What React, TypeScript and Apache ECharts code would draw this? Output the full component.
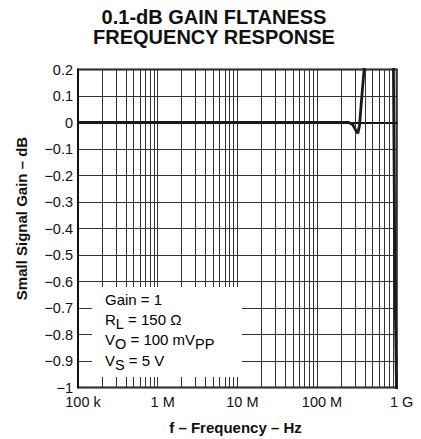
import React, { useEffect, useRef } from "react";
import * as echarts from "echarts";

const FONT = "'Liberation Sans', Arial, Helvetica, sans-serif";

const titleLines = ["0.1-dB GAIN FLTANESS", "FREQUENCY RESPONSE"];
const xAxisTitle = "f – Frequency – Hz";
const yAxisTitle = "Small Signal Gain – dB";

const xTickValues = [1e5, 1e6, 1e7, 1e8, 1e9];
const xTickLabels = ["100 k", "1 M", "10 M", "100 M", "1 G"];
const gridMultipliers = [2, 3, 4, 5, 6, 7, 8, 9];

const yTickValues = [-1, -0.9, -0.8, -0.7, -0.6, -0.5, -0.4, -0.3, -0.2, -0.1, 0, 0.1, 0.2];
const yTickLabels = ["−1", "−0.9", "−0.8", "−0.7", "−0.6", "−0.5", "−0.4", "−0.3", "−0.2", "−0.1", "0", "0.1", "0.2"];

const freqHz = [1e5, 1e6, 1e7, 1e8, 2.0e8, 2.5e8, 2.8e8, 3.05e8, 3.25e8, 3.42e8, 3.62e8, 3.9e8, 4.05e8, 9.05e8, 9.1e8, 9.5e8, 1.0e9];
const gainDb = [0, 0, 0, 0, 0, 0, -0.008, -0.028, -0.041, -0.01, 0.085, 0.2, 0.32, 0.32, 0.2, -0.6, -1.05];

const annotationLines = [
  "{n|Gain = 1}",
  "{n|R}{s|L}{n| = 150 Ω}",
  "{n|V}{s|O}{n| = 100 mV}{s|PP}",
  "{n|V}{s|S}{n| = 5 V}",
];

export default function App() {
  const ref = useRef<HTMLDivElement>(null);

  useEffect(() => {
    if (!ref.current) return;
    const chart = echarts.init(ref.current, undefined, { renderer: "svg" });

    const minorFreqs: number[] = [];
    for (let d = 0; d < xTickValues.length - 1; d++) {
      for (const m of gridMultipliers) minorFreqs.push(xTickValues[d] * m);
    }

    const annotationRich = {
      n: { fontSize: 15, fontFamily: FONT, color: "#111", lineHeight: 18 },
      s: { fontSize: 14.5, fontFamily: FONT, color: "#111", lineHeight: 14, padding: [9, 0, 0, 0] },
    };

    const lineYs = [299, 319.5, 339.5, 360];
    const titleTops = [7, 27];

    chart.setOption({
      animation: false,
      backgroundColor: "#fff",
      title: titleLines.map((t, i) => ({
        text: t,
        left: 214,
        top: titleTops[i],
        padding: 0,
        textAlign: "center",
        textStyle: {
          fontFamily: FONT,
          fontSize: 20,
          fontWeight: "bold",
          color: "#111",
          lineHeight: 20,
        },
      })),
      grid: {
        left: 78,
        right: 24.3,
        top: 69.5,
        bottom: 51.5,
        show: true,
        borderColor: "#111",
        borderWidth: 2,
        backgroundColor: "transparent",
      },
      xAxis: {
        type: "log",
        logBase: 10,
        min: 1e5,
        max: 1e9,
        axisLine: { show: true, lineStyle: { color: "#111", width: 2 } },
        axisTick: { show: false },
        axisLabel: {
          fontFamily: FONT,
          fontSize: 14.5,
          color: "#111",
          margin: 7,
          padding: [0, 0, 0, 10],
          formatter: (v: number) => {
            const i = xTickValues.findIndex((t) => Math.abs(Math.log10(t) - Math.log10(v)) < 1e-6);
            return i >= 0 ? xTickLabels[i] : "";
          },
        },
        splitLine: { show: true, lineStyle: { color: "#333", width: 1 } },
        minorTick: { show: false },
      },
      yAxis: {
        type: "value",
        min: -1,
        max: 0.2,
        interval: 0.1,
        axisLine: { show: true, lineStyle: { color: "#111", width: 2 } },
        axisTick: { show: false },
        axisLabel: {
          fontFamily: FONT,
          fontSize: 14.5,
          color: "#111",
          margin: 5,
          formatter: (v: number) => {
            const i = yTickValues.findIndex((t) => Math.abs(t - v) < 1e-6);
            return i >= 0 ? yTickLabels[i] : "";
          },
        },
        splitLine: { show: true, lineStyle: { color: "#333", width: 1 } },
      },
      graphic: {
        elements: [
          {
            type: "rect",
            z: 50,
            zlevel: 0,
            silent: true,
            shape: { x: 92, y: 287, width: 150, height: 90 },
            style: { fill: "#ffffff", stroke: null },
          },
          ...annotationLines.map((t, i) => ({
            type: "text",
            z: 60,
            x: 105,
            y: lineYs[i],
            style: {
              text: t,
              rich: annotationRich,
              verticalAlign: "middle",
              align: "left",
            },
          })),
          {
            type: "text",
            z: 60,
            x: 235.5,
            y: 427,
            style: {
              text: xAxisTitle,
              fontFamily: FONT,
              fontSize: 15,
              fontWeight: "bold",
              fill: "#111",
              align: "center",
              verticalAlign: "middle",
            },
          },
          {
            type: "text",
            z: 60,
            x: 21,
            y: 218.5,
            rotation: Math.PI / 2,
            style: {
              text: yAxisTitle,
              fontFamily: FONT,
              fontSize: 15,
              fontWeight: "bold",
              fill: "#111",
              align: "center",
              verticalAlign: "middle",
            },
          },
        ],
      },
      series: [
        {
          type: "line",
          z: 0,
          data: [],
          silent: true,
          markLine: {
            silent: true,
            symbol: ["none", "none"],
            label: { show: false },
            lineStyle: { color: "#333", width: 1, type: "solid" },
            emphasis: { disabled: true },
            data: minorFreqs.map((f) => ({ xAxis: f })),
          },
        },
        {
          type: "line",
          z: 5,
          data: freqHz.map((f, i) => [f, gainDb[i]]),
          showSymbol: false,
          symbol: "none",
          clip: true,
          lineStyle: { color: "#1a1a1a", width: 2.8 },
          silent: true,
        },
      ],
    });

    return () => chart.dispose();
  }, []);

  return (
    <div
      ref={ref}
      style={{ position: "fixed", left: 0, top: 0, width: 421, height: 439, background: "#fff" }}
    />
  );
}
